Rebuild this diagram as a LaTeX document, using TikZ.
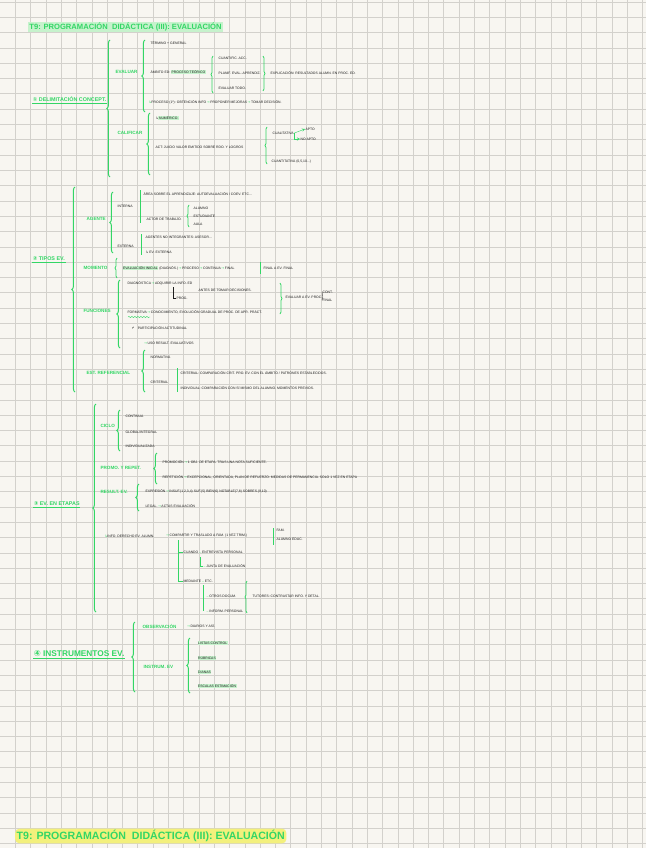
\documentclass[tikz,border=0pt]{standalone}
\usepackage{fontspec}
\setmainfont{Liberation Sans}
\newfontfamily\djv{DejaVu Sans}
\usetikzlibrary{decorations.pathreplacing,decorations.pathmorphing}
\definecolor{paper}{HTML}{F8F6F1}
\definecolor{gridc}{HTML}{D3D1CC}
\definecolor{gr}{HTML}{33D665}
\definecolor{hlg}{HTML}{C6F2CC}
\definecolor{hly}{HTML}{F3F07C}
\definecolor{ink}{HTML}{1E1E1E}
\setlength{\fboxsep}{0.6pt}
\newcommand{\ga}{{\color{gr}\djv\,→\,}}
\newcommand{\gh}{{\color{gr}\djv ↳}}
\begin{document}
\begin{tikzpicture}[x=1pt,y=-1pt,
 t/.style={anchor=west,inner sep=0.4pt,text=ink,font=\fontsize{3.4}{4}\selectfont},
 g/.style={anchor=west,inner sep=0.4pt,text=gr,font=\bfseries\fontsize{4.6}{6}\selectfont},
 hd/.style={anchor=west,inner sep=0.6pt,text=gr,font=\bfseries\fontsize{5.4}{6}\selectfont},
 br/.style={draw=gr,line width=1pt,decorate,decoration={brace,amplitude=3.2pt}},
 brs/.style={draw=gr,line width=0.7pt,decorate,decoration={brace,amplitude=2pt}},
 bar/.style={draw=gr,line width=0.6pt},
 gl/.style={draw=gr,line width=0.6pt},
 thin/.style={draw=ink,line width=0.35pt},
 ul/.style={draw=gr,line width=0.7pt},
]
\fill[paper] (0,0) rectangle (646,848);
\useasboundingbox (0,0) rectangle (646,848);
\foreach \k in {1,...,42} \draw[gridc,line width=0.6pt] (15.3*\k,0) -- (15.3*\k,848);
\foreach \k in {0,...,55} \draw[gridc,line width=0.6pt] (0,2+15.3*\k) -- (646,2+15.3*\k);

% titles
\node[hd,fill=hlg,font=\bfseries\fontsize{7.6}{8}\selectfont,inner sep=1.2pt] (title) at (28,27) {T9: PROGRAMACIÓN \ DIDÁCTICA (III): EVALUACIÓN};
\node[hd,fill=hly,rounded corners=4pt,font=\bfseries\fontsize{10.6}{11}\selectfont,inner sep=1.5pt] (title2) at (15,836) {T9: PROGRAMACIÓN \ DIDÁCTICA (III): EVALUACIÓN};

% ---------- Section 1
\node[hd] (s1) at (32,99) {{\djv ①} DELIMITACIÓN CONCEPT.};
\draw[ul] ([yshift=-0.8pt]s1.south west) -- ([yshift=-0.8pt]s1.south east);
\draw[br] (110,177) -- (110,40);
\node[g] (evaluar) at (115,72) {EVALUAR};
\draw[br] (145,112) -- (145,40);
\node[t] (a1) at (150,43) {TÉRMINO + GENERAL};
\node[t] (a2) at (150,72) {ÁMBITO ED: \colorbox{hlg}{PROCESO TEÓRICO}};
\draw[brs] (213,93) -- (213,56);
\node[t] (b1) at (218,58) {CUANTIFIC. ACC.};
\node[t] (b2) at (218,73) {PLANIF. EVAL.-APRENDIZ.};
\node[t] (b3) at (218,88) {EVALUAR TODO.};
\draw[brs] (263,56) -- (263,91);
\node[t] (b4) at (270,73) {EXPLICACIÓN: RESULTADOS ALUMN. EN PROC. ED.};
\node[t] (a3) at (148,102) {\gh PROCESO (1º): OBTENCIÓN INFO\ga PROPONER MEJORAS\ga TOMAR DECISIÓN.};
\node[g] (calif) at (117,133) {CALIFICAR};
\draw[br] (150,175) -- (150,113);
\node[t] (c1) at (155,118) {{\djv ↳}\colorbox{hlg}{NUMÉRICO.}};
\node[t] (c2) at (155,147) {ACT: JUICIO VALOR EMITIDO SOBRE RDO. Y LOGROS};
\draw[brs] (267,164) -- (267,127);
\node[t] (c3) at (272,133) {CUALITATIVA};
\node[t] (c4) at (305,129) {APTO};
\node[t] (c5) at (300,139) {NO APTO};
\draw[gl,->,line width=0.4pt,>=stealth] (c3.east) -- (c4.west);
\draw[gl,->,line width=0.4pt,>=stealth] (c3.east) |- (c5.west);
\node[t] (c6) at (271,162) {CUANTITATIVA (0,5,10...)};

% ---------- Section 2
\node[hd] (s2) at (32,259) {{\djv ②} TIPOS EV.};
\draw[ul] ([yshift=-0.8pt]s2.south west) -- ([yshift=-0.8pt]s2.south east);
\draw[br] (75,392) -- (75,187);
\node[g] (agente) at (86,219) {AGENTE};
\draw[br] (113,253) -- (113,192);
\node[t] (int) at (117,206) {INTERNA};
\draw[bar] (140,190) -- (140,223);
\node[t] (i1) at (143,194) {ÁREA SOBRE EL APRENDIZAJE: AUTOEVALUACIÓN / COEV. ETC...};
\node[t] (i2) at (146,219) {ACTOR DE TRABAJO.};
\draw[brs] (189,227) -- (189,205);
\node[t] (i3) at (193,208) {ALUMNO};
\node[t] (i4) at (193,216) {ESTUDIANTE};
\node[t] (i5) at (193,224) {AULA};
\node[t] (ext) at (117,246) {EXTERNA};
\draw[bar] (141,234) -- (141,255);
\node[t] (e1) at (145,237) {AGENTES NO INTEGRANTES: ASESOR...};
\node[t] (e2) at (145,252) {{\djv ↳} EV. EXTERNA};

\node[g] (mom) at (83,268) {MOMENTO};
\draw[brs] (117,278) -- (117,258);
\node[t] (m1) at (122,268) {\colorbox{hlg}{EVALUACIÓN INICIAL} (DIAGNÓS.)\ga PROCESO\ga CONTINUA\ga FINAL};
\draw[bar] (260,262) -- (260,274);
\node[t] (m2) at (263,268) {FINAL A EV. FINAL};

\node[g] (func) at (83,311) {FUNCIONES};
\draw[br] (120,348) -- (120,280);
\node[t] (f1) at (127,283) {DIAGNÓSTICA\ga ADQUIRIR LA INFO. ED};
\node[t] (f2) at (176,298) {PROG.};
\draw[thin] (173,287) |- (f2.west);
\node[t] (f3) at (198,290) {ANTES DE TOMAR DECISIONES.};
\node[t] (f4) at (127,312) {FORMATIVA\ga CONOCIMIENTO, EVOLUCIÓN GRADUAL DE PROC. DE APR. PRÁCT.};
\draw[gr,line width=0.4pt,decorate,decoration={snake,amplitude=0.6pt,segment length=3pt}] (128,317) -- (150,317);
\draw[brs] (280,283) -- (280,314);
\node[t] (f5) at (285,297) {EVALUAR A EV. PROC.};
\node[t] (f6) at (322,292) {CONT.};
\node[t] (f7) at (322,300) {FINAL};
\draw[thin] (f5.east) -- (f6.west);
\draw[thin] (f5.east) -- (f7.west);
\node[t] (f8) at (131,328) {{\djv ↱}\quad PARTICIPACIÓN ACTITUDINAL};
\node[t] (f9) at (143,343) {\ga USO RESULT. EVALUATIVOS};

\node[g] (est) at (86,373) {EST. REFERENCIAL};
\draw[br] (145,392) -- (145,350);
\node[t] (r1) at (150,357) {NORMATIVA};
\node[t] (r2) at (150,382) {CRITERIAL};
\draw[bar] (177,368) -- (177,392);
\node[t] (r3) at (180,373) {CRITERIAL: COMPARACIÓN CRIT. PRO. EV. CON EL ÁMBITO / PATRONES ESTABLECIDOS.};
\node[t] (r4) at (180,388) {INDIVIDUAL: COMPARACIÓN CON SÍ MISMO DEL ALUMNO. MOMENTOS PREVIOS.};

% ---------- Section 3
\node[hd] (s3) at (33,504) {{\djv ③} EV. EN ETAPAS};
\draw[ul] ([yshift=-0.8pt]s3.south west) -- ([yshift=-0.8pt]s3.south east);
\draw[br] (96,612) -- (96,404);
\node[g] (ciclo) at (100,426) {CICLO};
\draw[br] (120,451) -- (120,410);
\node[t] (k1) at (125,416) {CONTINUA};
\node[t] (k2) at (125,432) {GLOBAL/INTEGRAL};
\node[t] (k3) at (125,446) {INDIVIDUALIZADA};
\node[g] (promo) at (100,468) {PROMO. Y REPET.};
\draw[br] (157,484) -- (157,453);
\node[t] (p1) at (162,462) {PROMOCIÓN\ga 1 OBJ. DE ETAPA. TRAS UNA NOTA SUFICIENTE.};
\node[t] (p2) at (162,477) {REPETICIÓN\ga EXCEPCIONAL, ORIENTADA, PLAN DE REFUERZO: MEDIDAS DE PERMANENCIA. SOLO 1 VEZ EN ETAPA};
\node[g] (res) at (100,492) {RESULT. EV.};
\draw[br] (139,511) -- (139,484);
\node[t] (q1) at (145,491) {EXPRESIÓN\ga INSUF.(1,2,3,4) SUF.(5) BIEN(6) NOTABLE(7,8) SOBRES.(9,10)};
\node[t] (q2) at (145,506) {LEGAL.\ga ACTAS EVALUACIÓN};

\node[t] (n1) at (104,536) {\gh INFO. DERECHO EV. ALUMN.};
\node[t] (n2) at (165,536) {\ga COMPARTIR Y TRASLADO A FAM. (1 VEZ TRIM.)};
\draw[bar] (273,528) -- (273,545);
\node[t] (n3) at (276,530) {FAM.};
\node[t] (n4) at (276,539) {ALUMNO EDUC.};
\node[t] (n5) at (183,552) {CUANDO {\color{gr}–} ENTREVISTA PERSONAL};
\node[t] (n7) at (183,581) {MEDIANTE {\color{gr}–} ETC.};
\draw[gl] (178,540) |- (n5.west);
\draw[gl] (178,540) |- (n7.west);
\node[t] (n6) at (203,566) {{\color{gr}–} JUNTA DE EVALUACIÓN};
\draw[gl] (200,557) -- (200,566) -- (n6.west);
\node[t] (n8) at (206,596) {{\color{gr}–} OTROS DOCUM.};
\node[t] (n9) at (206,611) {{\color{gr}–} INFORM. PERSONAL};
\draw[gl] (203,585) -- (203,611);
\draw[brs] (247,613) -- (247,581);
\node[t] (n10) at (252,596) {TUTORES: CONTRASTAR INFO. Y DETAL.};

% ---------- Section 4
\node[hd,font=\bfseries\fontsize{8.3}{9}\selectfont] (s4) at (33,654) {{\djv ④} INSTRUMENTOS EV.};
\draw[ul] ([yshift=-0.8pt]s4.south west) -- ([yshift=-0.8pt]s4.south east);
\draw[br] (135,692) -- (135,622);
\node[g] (obs) at (142,626) {OBSERVACIÓN};
\node[t] (o1) at (186,626) {\ga DIARIOS Y ASÍ.};
\node[g] (ins) at (143,667) {INSTRUM. EV};
\draw[br] (190,693) -- (190,638);
\node[t] (l1) at (197,643) {\colorbox{hlg}{LISTAS CONTROL}};
\node[t] (l2) at (197,658) {\colorbox{hlg}{RÚBRICAS}};
\node[t] (l3) at (197,672) {\colorbox{hlg}{DIANAS}};
\node[t] (l4) at (197,686) {\colorbox{hlg}{ESCALAS ESTIMACIÓN}};
\end{tikzpicture}
\end{document}
